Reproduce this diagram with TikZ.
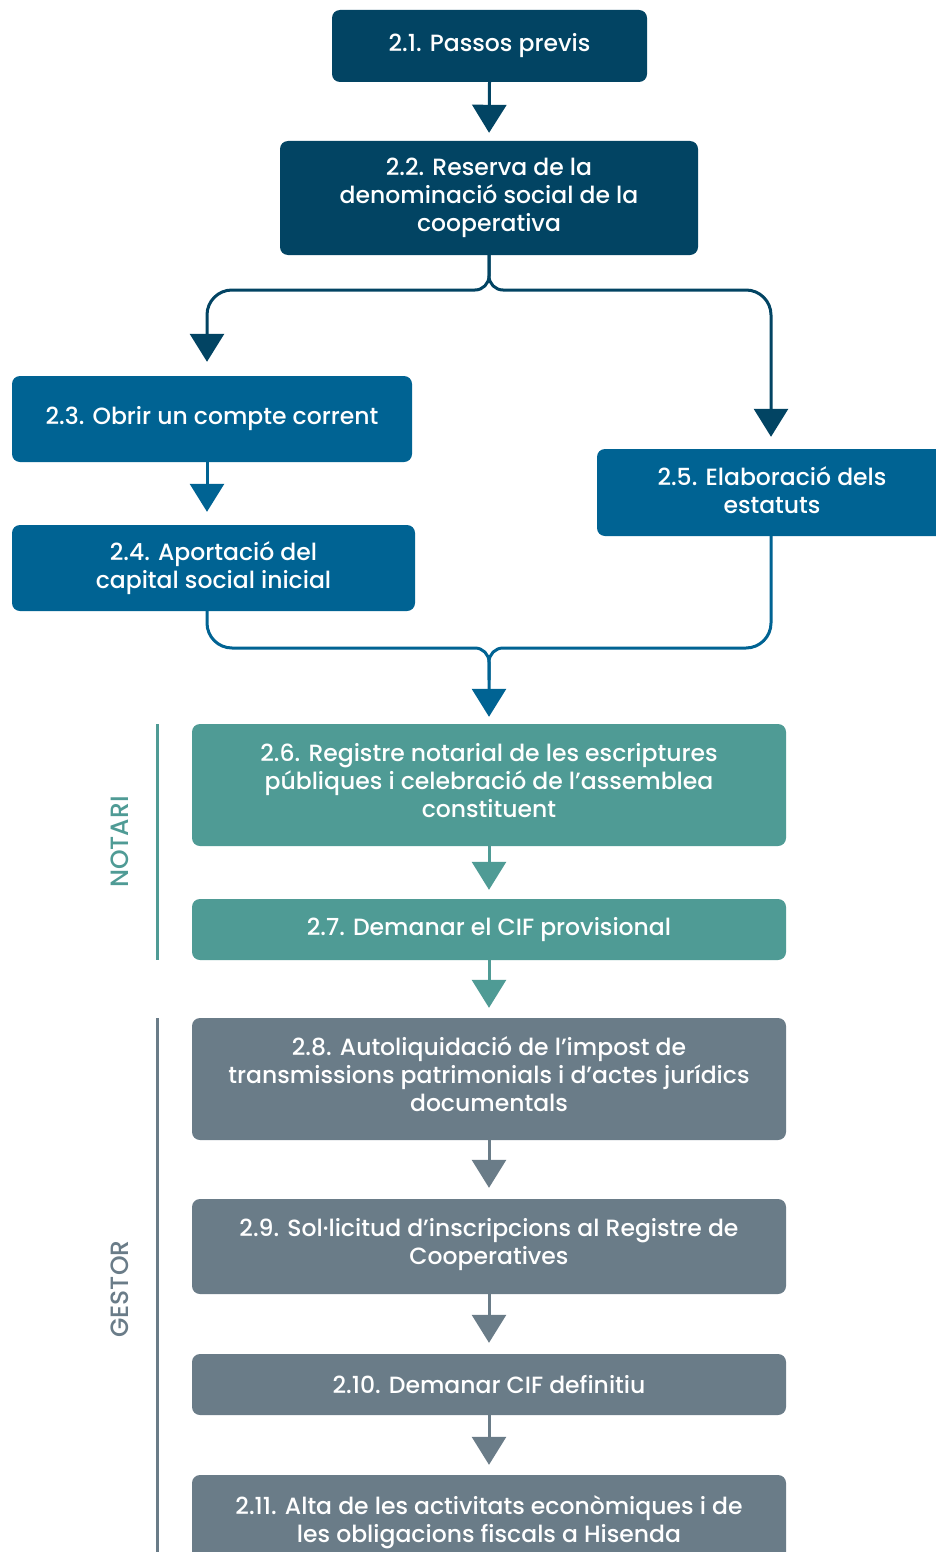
\documentclass[tikz,border=0pt]{standalone}
\usepackage{fontspec}
\setmainfont{Poppins Medium}
\usetikzlibrary{arrows.meta,calc}
\definecolor{navy}{RGB}{2,68,99}
\definecolor{blu}{RGB}{0,99,147}
\definecolor{teal2}{RGB}{79,155,149}
\definecolor{gray2}{RGB}{106,124,136}
\newcommand{\lowerpad}[1]{\rule[-#1]{0pt}{#1}}
\tikzset{
  box/.style={rounded corners=8pt, text=white, align=center, inner sep=0pt,
    font=\fontsize{23.5}{28}\selectfont},
  conn/.style={line width=3pt},
  tip/.style={-{Triangle[width=34pt,length=28pt]}},
  side/.style={font=\fontsize{25}{28}\selectfont, rotate=90}
}
\begin{document}
\begin{tikzpicture}[x=1pt,y=-1pt]
\clip (0,0) rectangle (936,1552);
\fill[white] (0,0) rectangle (936,1552);

\node[box, fill=navy, minimum width=315pt, minimum height=72pt] (b1) at (489.5,46) {2.1. Passos previs};
\node[box, fill=navy, minimum width=418pt, minimum height=114pt] (b2) at (489,198) {2.2. Reserva de la\\denominació social de la\\cooperativa};
\node[box, fill=blu, minimum width=400pt, minimum height=86pt] (b3) at (212,419) {2.3. Obrir un compte corrent};
\node[box, fill=blu, minimum width=403pt, minimum height=86pt] (b4) at (213.5,568) {2.4. Aportació del\\capital social inicial};
\node[box, fill=blu, minimum width=350pt, minimum height=87pt] (b5) at (772,492.5) {2.5. Elaboració dels\\estatuts\lowerpad{4pt}};
\node[box, fill=teal2, minimum width=594pt, minimum height=122pt] (b6) at (489,785) {2.6. Registre notarial de les escriptures\\públiques i celebració de l’assemblea\\constituent\lowerpad{10pt}};
\node[box, fill=teal2, minimum width=594pt, minimum height=61pt] (b7) at (489,929.5) {2.7. Demanar el CIF provisional};
\node[box, fill=gray2, minimum width=594pt, minimum height=122pt] (b8) at (489,1079) {2.8. Autoliquidació de l’impost de\\transmissions patrimonials i d’actes jurídics\\documentals\lowerpad{10pt}};
\node[box, fill=gray2, minimum width=594pt, minimum height=95pt] (b9) at (489,1246.5) {2.9. Sol·licitud d’inscripcions al Registre de\\Cooperatives\lowerpad{11pt}};
\node[box, fill=gray2, minimum width=594pt, minimum height=61pt] (b10) at (489,1384.5) {2.10. Demanar CIF definitiu};
\node[box, fill=gray2, minimum width=594pt, minimum height=94pt] (b11) at (489,1522) {2.11. Alta de les activitats econòmiques i de\\les obligacions fiscals a Hisenda};

\coordinate (j1) at (489,290);
\coordinate (j1l) at (207,290);
\coordinate (j1r) at (771,290);
\coordinate (j2) at (489,648);
\coordinate (j2l) at (207,648);
\coordinate (j2r) at (771,648);
\coordinate (j2s) at (489,680);

% 2.1 -> 2.2
\draw[conn, tip, navy, shorten >=8pt] (b1.south) -- (b2.north);
% branch
\draw[conn, tip, navy, shorten >=14pt] (b2.south) [rounded corners=14pt] -- (j1) [rounded corners=25pt] -- (j1l) [sharp corners] -- (b3.north -| j1l);
\draw[conn, tip, navy, shorten >=12pt] (b2.south) [rounded corners=14pt] -- (j1) [rounded corners=25pt] -- (j1r) [sharp corners] -- (b5.north -| j1r);
% 2.3 -> 2.4
\draw[conn, tip, blu, shorten >=13pt] (b3.south -| j1l) -- (b4.north -| j1l);
% merge
\draw[conn, tip, blu, shorten >=7pt] (b4.south -| j2l) [rounded corners=25pt] -- (j2l) [rounded corners=14pt] -- (j2) [sharp corners] -- (b6.north);
\draw[conn, blu] (b5.south -| j2r) [rounded corners=25pt] -- (j2r) [rounded corners=14pt] -- (j2) [sharp corners] -- (j2s);
% teal
\draw[conn, tip, teal2, shorten >=9pt] (b6.south) -- (b7.north);
\draw[conn, tip, teal2, shorten >=10pt] (b7.south) -- (b8.north);
% gray
\draw[conn, tip, gray2, shorten >=11pt] (b8.south) -- (b9.north);
\draw[conn, tip, gray2, shorten >=11pt] (b9.south) -- (b10.north);
\draw[conn, tip, gray2, shorten >=10pt] (b10.south) -- (b11.north);

% side labels
\coordinate (n1) at (157,724);
\coordinate (n2) at (157,960);
\coordinate (g1) at (157,1018);
\coordinate (g2) at (157,1560);
\draw[conn, teal2] (n1) -- (n2);
\draw[conn, gray2] (g1) -- (g2);
\node[side, text=teal2] (lnot) at (120,842) {NOTARI};
\node[side, text=gray2] (lges) at (120,1289) {GESTOR};
\end{tikzpicture}
\end{document}
